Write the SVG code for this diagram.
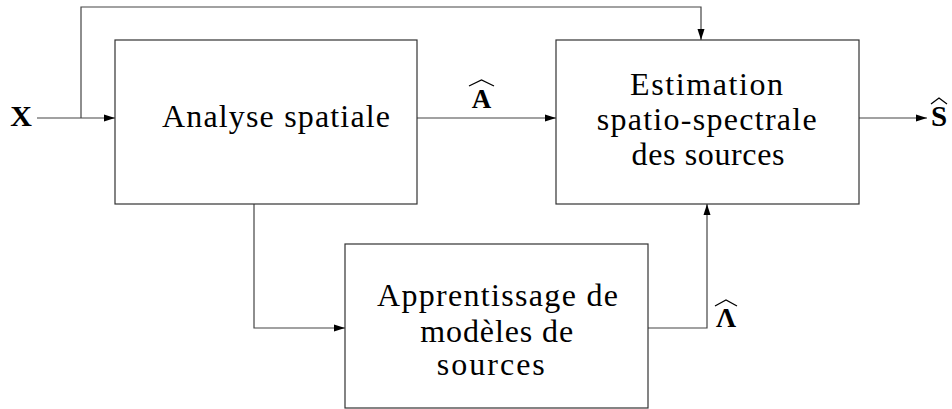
<svg xmlns="http://www.w3.org/2000/svg" width="952" height="409" viewBox="0 0 952 409">
<style>
.box{fill:#fff;stroke:#333;stroke-width:1.2}
.t{font-family:'Liberation Serif','DejaVu Serif',serif;font-size:32px;fill:#000;text-anchor:middle}
.m{font-family:'Liberation Serif','DejaVu Serif',serif;font-weight:bold;fill:#000;text-anchor:middle}
.hat{fill:none;stroke:#000;stroke-width:1.3}
.c{fill:none;stroke:#444;stroke-width:1.2}
</style>
<defs>
<marker id="ah" markerUnits="userSpaceOnUse" markerWidth="12" markerHeight="8" refX="11" refY="4" orient="auto">
<path d="M0,0.5 L11,4 L0,7.5 z" fill="#000"/>
</marker>
</defs>
<rect width="952" height="409" fill="#fff"/>
<g id="connectors">
<path class="c" d="M37,118 H115" marker-end="url(#ah)"/>
<path class="c" d="M81,118 V7 H701 V40" marker-end="url(#ah)"/>
<path class="c" d="M417,118 H556" marker-end="url(#ah)"/>
<path class="c" d="M859,118 H927" marker-end="url(#ah)"/>
<path class="c" d="M254,204 V328 H345" marker-end="url(#ah)"/>
<path class="c" d="M648,328 H707 V204" marker-end="url(#ah)"/>
</g>
<g id="analyse">
<rect class="box" x="115" y="40" width="302" height="164"/>
<text class="t" x="276" y="127" textLength="228" lengthAdjust="spacing">Analyse spatiale</text>
</g>
<g id="estimation">
<rect class="box" x="556" y="40" width="303" height="164"/>
<text class="t" x="706.5" y="95" textLength="153" lengthAdjust="spacing">Estimation</text>
<text class="t" x="706.7" y="130" textLength="220" lengthAdjust="spacing">spatio-spectrale</text>
<text class="t" x="708" y="165" textLength="153" lengthAdjust="spacing">des sources</text>
</g>
<g id="apprentissage">
<rect class="box" x="345" y="244" width="303" height="164"/>
<text class="t" x="497.5" y="306" textLength="241" lengthAdjust="spacing">Apprentissage de</text>
<text class="t" x="496.7" y="342" textLength="153" lengthAdjust="spacing">modèles de</text>
<text class="t" x="490.8" y="375" textLength="108" lengthAdjust="spacing">sources</text>
</g>
<g id="labels">
<text class="m" x="21" y="126" font-size="30">X</text>
<text class="m" x="481.5" y="108" font-size="27">A</text>
<path class="hat" d="M469,86 L481.5,80 L494,86"/>
<text class="m" x="939" y="126" font-size="29">S</text>
<path class="hat" d="M931,104 L939,98 L947,104"/>
<text class="m" x="726" y="327" font-size="28">Λ</text>
<path class="hat" d="M715,306 L726,300 L737,306"/>
</g>
</svg>
